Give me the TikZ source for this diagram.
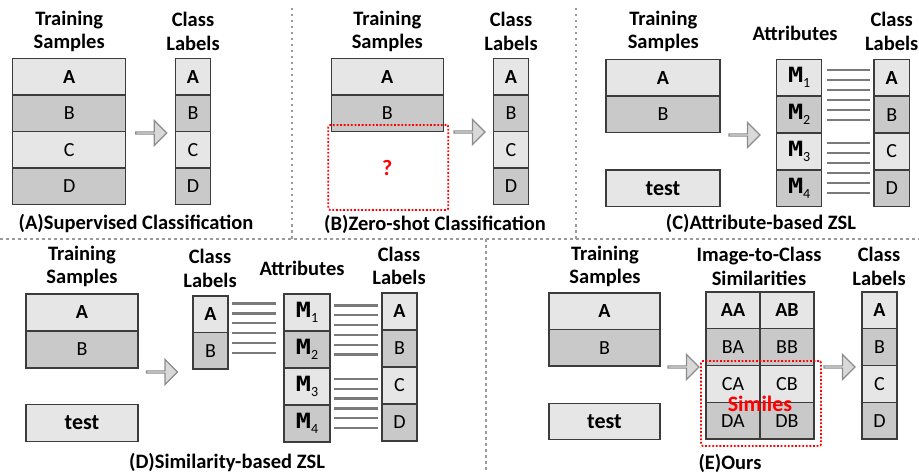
\documentclass[tikz,border=0pt]{standalone}
\usepackage{fontspec}
\setmainfont{Carlito}
\newfontfamily\monofam[FakeStretch=1.2]{DejaVu Sans Mono}
\usetikzlibrary{shapes.arrows}

\definecolor{lightc}{HTML}{E6E6E6}
\definecolor{darkc}{HTML}{C9C9C9}
\definecolor{bordc}{HTML}{3C3C3C}
\definecolor{arrfill}{HTML}{D9D9D9}
\definecolor{arrc}{HTML}{8C8C8C}
\definecolor{linec}{HTML}{7A7A7A}
\definecolor{sepc}{HTML}{9A9A9A}
\definecolor{simred}{HTML}{FF0000}

\newcommand{\attr}[1]{{\monofam\bfseries\fontsize{21}{22}\selectfont M}\raisebox{-5pt}{\fontsize{14}{14}\selectfont #1}}

\tikzset{
  cell/.style={draw=bordc, line width=1.4pt, inner sep=0pt, anchor=center,
    font=\fontsize{20}{22}\selectfont},
  la/.style={cell, fill=lightc},
  dk/.style={cell, fill=darkc},
  big/.style={font=\fontsize{22}{24}\selectfont},
  hdr/.style={font=\bfseries\fontsize{20.5}{23.5}\selectfont, align=center, inner sep=0pt},
  capt/.style={font=\bfseries\fontsize{20.5}{23}\selectfont, inner sep=0pt},
  blockarrow/.style={single arrow, draw=arrc, fill=arrfill, line width=1.2pt,
    minimum height=31pt, minimum width=25pt, single arrow head extend=6pt, inner sep=0pt},
  sepline/.style={draw=sepc, line width=2.5pt, dash pattern=on 2.5pt off 3.5pt},
  hatch/.style={draw=linec, line width=2.3pt},
  redbox/.style={draw=simred, line width=1.8pt, dash pattern=on 1.8pt off 1.8pt, rounded corners=2pt}
}

\begin{document}
\begin{tikzpicture}[x=1pt, y=-1pt]
\useasboundingbox (0,0) rectangle (919,476);

% ---- separators ----
\draw[sepline] (0,239) -- (919,239);
\draw[sepline] (292,8) -- (292,239);
\draw[sepline] (576,8) -- (576,239);
\draw[sepline] (486,239) -- (486,472);

% ================= (A) =================
\node[hdr] (aTS) at (69.2,31.4) {Training\\Samples};
\node[hdr] (aCL) at (193,31.4) {Class\\Labels};
\begin{scope}[every node/.append style={minimum width=113pt, minimum height=36.5pt}]
  \node[la] (aS1) at (69.2,76.75) {\bfseries A};
  \node[dk] (aS2) at (69.2,113.25) {B};
  \node[la] (aS3) at (69.2,149.75) {C};
  \node[dk] (aS4) at (69.2,186.25) {D};
\end{scope}
\begin{scope}[every node/.append style={minimum width=35.5pt, minimum height=36.5pt}]
  \node[la] (aL1) at (193,76.75) {\bfseries A};
  \node[dk] (aL2) at (193,113.25) {B};
  \node[la] (aL3) at (193,149.75) {C};
  \node[dk] (aL4) at (193,186.25) {D};
\end{scope}
\node[blockarrow] (aAr) at (150.75,133) {};
\node[capt] (aCap) at (136,224) {(A)Supervised Classification};

% ================= (B) =================
\node[hdr] (bTS) at (387.3,31.4) {Training\\Samples};
\node[hdr] (bCL) at (511,31.4) {Class\\Labels};
\begin{scope}[every node/.append style={minimum width=112pt, minimum height=36.5pt}]
  \node[la] (bS1) at (387.3,76.75) {\bfseries A};
  \node[dk] (bS2) at (387.3,113.25) {B};
\end{scope}
\begin{scope}[every node/.append style={minimum width=35.5pt, minimum height=36.5pt}]
  \node[la] (bL1) at (511,76.75) {\bfseries A};
  \node[dk] (bL2) at (511,113.25) {B};
  \node[la] (bL3) at (511,149.75) {C};
  \node[dk] (bL4) at (511,186.25) {D};
\end{scope}
\node[redbox, minimum width=120pt, minimum height=85pt, inner sep=0pt] (bQ) at (388.3,167.5) {};
\node[text=simred, font=\bfseries\fontsize{22}{24}\selectfont] (bQm) at (387.3,168) {?};
\node[blockarrow] (bAr) at (469,132) {};
\node[capt] (bCap) at (435,224) {(B)Zero-shot Classification};

% ================= (C) =================
\node[hdr] (cTS) at (663.3,31.4) {Training\\Samples};
\node[hdr] (cAt) at (795,33) {Attributes};
\node[hdr] (cCL) at (891.7,31.4) {Class\\Labels};
\begin{scope}[every node/.append style={minimum width=114pt, minimum height=36.7pt}]
  \node[la] (cS1) at (663,77.65) {\bfseries A};
  \node[dk] (cS2) at (663,114.35) {B};
  \node[la, big] (cT) at (663,188.3) {\bfseries test};
\end{scope}
\begin{scope}[every node/.append style={minimum width=45pt, minimum height=36.85pt}]
  \node[la] (cM1) at (799.2,77.7) {\attr{1}};
  \node[dk] (cM2) at (799.2,114.6) {\attr{2}};
  \node[la] (cM3) at (799.2,151.4) {\attr{3}};
  \node[dk] (cM4) at (799.2,188.3) {\attr{4}};
\end{scope}
\begin{scope}[every node/.append style={minimum width=35.3pt, minimum height=36.85pt}]
  \node[la] (cL1) at (891.7,77.7) {\bfseries A};
  \node[dk] (cL2) at (891.7,114.6) {B};
  \node[la] (cL3) at (891.7,151.4) {C};
  \node[dk] (cL4) at (891.7,188.3) {D};
\end{scope}
\foreach \k in {0,...,5} {
  \draw[hatch] (827,70+10*\k) -- (870,70+10*\k);
  \draw[hatch] (827,143.3+10*\k) -- (870,143.3+10*\k);
}
\node[blockarrow] (cAr) at (744,135) {};
\node[capt] (cCap) at (761,223) {(C)Attribute-based ZSL};

% ================= (D) =================
\node[hdr] (dTS) at (82,266.5) {Training\\Samples};
\node[hdr] (dCLa) at (210,268.5) {Class\\Labels};
\node[hdr] (dAt) at (302,268) {Attributes};
\node[hdr] (dCLb) at (399,266) {Class\\Labels};
\begin{scope}[every node/.append style={minimum width=112pt, minimum height=37pt}]
  \node[la] (dS1) at (82,312.5) {\bfseries A};
  \node[dk] (dS2) at (82,349.5) {B};
  \node[la, big] (dT) at (82,423) {\bfseries test};
\end{scope}
\begin{scope}[every node/.append style={minimum width=35pt, minimum height=36.5pt}]
  \node[la] (dA1) at (210.5,314.25) {\bfseries A};
  \node[dk] (dA2) at (210.5,350.75) {B};
\end{scope}
\begin{scope}[every node/.append style={minimum width=46pt, minimum height=37pt}]
  \node[la] (dM1) at (307,312.5) {\attr{1}};
  \node[dk] (dM2) at (307,349.5) {\attr{2}};
  \node[la] (dM3) at (307,386.5) {\attr{3}};
  \node[dk] (dM4) at (307,423.5) {\attr{4}};
\end{scope}
\begin{scope}[every node/.append style={minimum width=35pt, minimum height=37pt}]
  \node[la] (dL1) at (399.5,311.5) {\bfseries A};
  \node[dk] (dL2) at (399.5,348.5) {B};
  \node[la] (dL3) at (399.5,385.5) {C};
  \node[dk] (dL4) at (399.5,422.5) {D};
\end{scope}
\foreach \k in {0,...,5} {
  \draw[hatch] (232,303.5+9.9*\k) -- (276,303.5+9.9*\k);
  \draw[hatch] (334,305.5+9.8*\k) -- (378,305.5+9.8*\k);
  \draw[hatch] (334,379+9.8*\k) -- (378,379+9.8*\k);
}
\node[blockarrow] (dAr) at (161.5,372) {};
\node[capt] (dCap) at (227,463) {(D)Similarity-based ZSL};

% ================= (E) =================
\node[hdr] (eTS) at (605,266.5) {Training\\Samples};
\node[hdr] (eSim) at (759,266.5) {Image-to-Class\\Similarities};
\node[hdr] (eCL) at (879,266.5) {Class\\Labels};
\begin{scope}[every node/.append style={minimum width=111pt, minimum height=36.5pt}]
  \node[la] (eS1) at (604.5,311.25) {\bfseries A};
  \node[dk] (eS2) at (604.5,347.75) {B};
  \node[la, big] (eT) at (604.5,421.5) {\bfseries test};
\end{scope}
\begin{scope}[every node/.append style={minimum width=54pt, minimum height=36.75pt, big}]
  \node[la] (eAA) at (733,310.4) {\bfseries AA};
  \node[la] (eAB) at (787,310.4) {\bfseries AB};
  \node[dk] (eBA) at (733,347.1) {BA};
  \node[dk] (eBB) at (787,347.1) {BB};
  \node[la] (eCA) at (733,383.9) {CA};
  \node[la] (eCB) at (787,383.9) {CB};
  \node[dk] (eDA) at (733,420.6) {DA};
  \node[dk] (eDB) at (787,420.6) {DB};
\end{scope}
\node[redbox, minimum width=120pt, minimum height=85pt, inner sep=0pt] (eBox) at (761,403.5) {};
\node[text=simred, font=\bfseries\fontsize{22}{24}\selectfont, inner sep=0pt] (eSimiles) at (760,404) {Similes};
\begin{scope}[every node/.append style={minimum width=35pt, minimum height=36.75pt}]
  \node[la] (eL1) at (879.5,310.4) {\bfseries A};
  \node[dk] (eL2) at (879.5,347.1) {B};
  \node[la] (eL3) at (879.5,383.9) {C};
  \node[dk] (eL4) at (879.5,420.6) {D};
\end{scope}
\node[blockarrow] (eAr1) at (683,367) {};
\node[blockarrow] (eAr2) at (839,367) {};
\node[capt] (eCap) at (730,463) {(E)Ours};

\end{tikzpicture}
\end{document}
